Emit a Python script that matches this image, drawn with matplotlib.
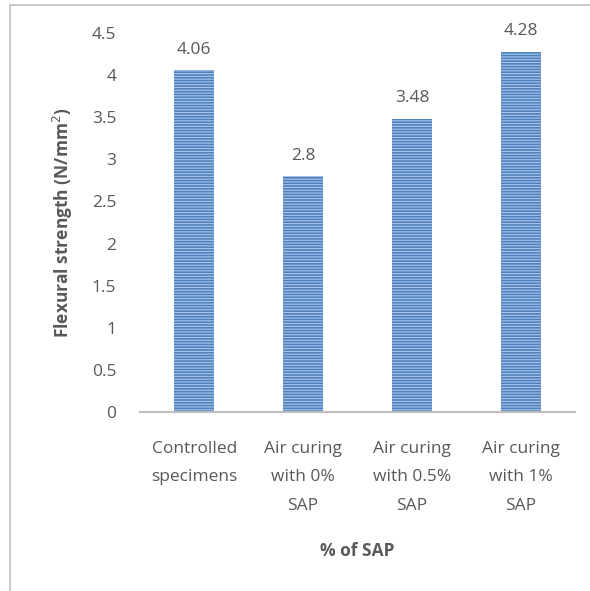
import matplotlib.pyplot as plt
from matplotlib.patches import Rectangle

categories = ["Controlled\nspecimens", "Air curing\nwith 0%\nSAP",
              "Air curing\nwith 0.5%\nSAP", "Air curing\nwith 1%\nSAP"]
values = [4.06, 2.8, 3.48, 4.28]
value_labels = ["4.06", "2.8", "3.48", "4.28"]
yticks = [0, 0.5, 1, 1.5, 2, 2.5, 3, 3.5, 4, 4.5]
ytick_labels = ["0", "0.5", "1", "1.5", "2", "2.5", "3", "3.5", "4", "4.5"]

plt.rcParams['font.family'] = ['Open Sans', 'DejaVu Sans']
plt.rcParams['hatch.linewidth'] = 0.8
text_color = "#595959"
fs = 12.5

fig = plt.figure(figsize=(5.9, 5.91), dpi=100)
ax = fig.add_axes([0.237, 0.303, 0.738, 0.641])

x = range(len(categories))
bars = ax.bar(x, values, width=0.37, color="#4f81bd", edgecolor="#a9c4ea",
              hatch="------", linewidth=0)

for rect, lab in zip(bars, value_labels):
    ax.annotate(lab, (rect.get_x() + rect.get_width() / 2, rect.get_height()),
                xytext=(0, 9), textcoords="offset points",
                ha="center", va="bottom", fontsize=fs, color=text_color)

ax.set_xlim(-0.5, 3.5)
ax.set_ylim(0, 4.5)
ax.set_yticks(yticks)
ax.set_yticklabels(ytick_labels)
ax.set_xticks(list(x))
ax.set_xticklabels(categories, linespacing=2.03)
ax.tick_params(axis="y", length=0, pad=17, labelsize=fs, labelcolor=text_color)
ax.tick_params(axis="x", length=0, pad=21, labelsize=fs, labelcolor=text_color)

for s in ["top", "right", "left"]:
    ax.spines[s].set_visible(False)
ax.spines["bottom"].set_color("#bfbfbf")
ax.spines["bottom"].set_linewidth(1.5)

ax.set_ylabel("Flexural strength (N/mm$^2$)", fontsize=fs, fontweight="bold",
              color=text_color, labelpad=12)
ax.set_xlabel("% of SAP", fontsize=fs, fontweight="bold", color=text_color,
              labelpad=20)

# outer chart border (left and top visible)
fig.patches.append(Rectangle((10 / 590, -0.1), 1.2, 1 - 5 / 591 + 0.1,
                             transform=fig.transFigure, fill=False,
                             edgecolor="#bfbfbf", linewidth=1.2))

fig.savefig("out.png", dpi=100)
